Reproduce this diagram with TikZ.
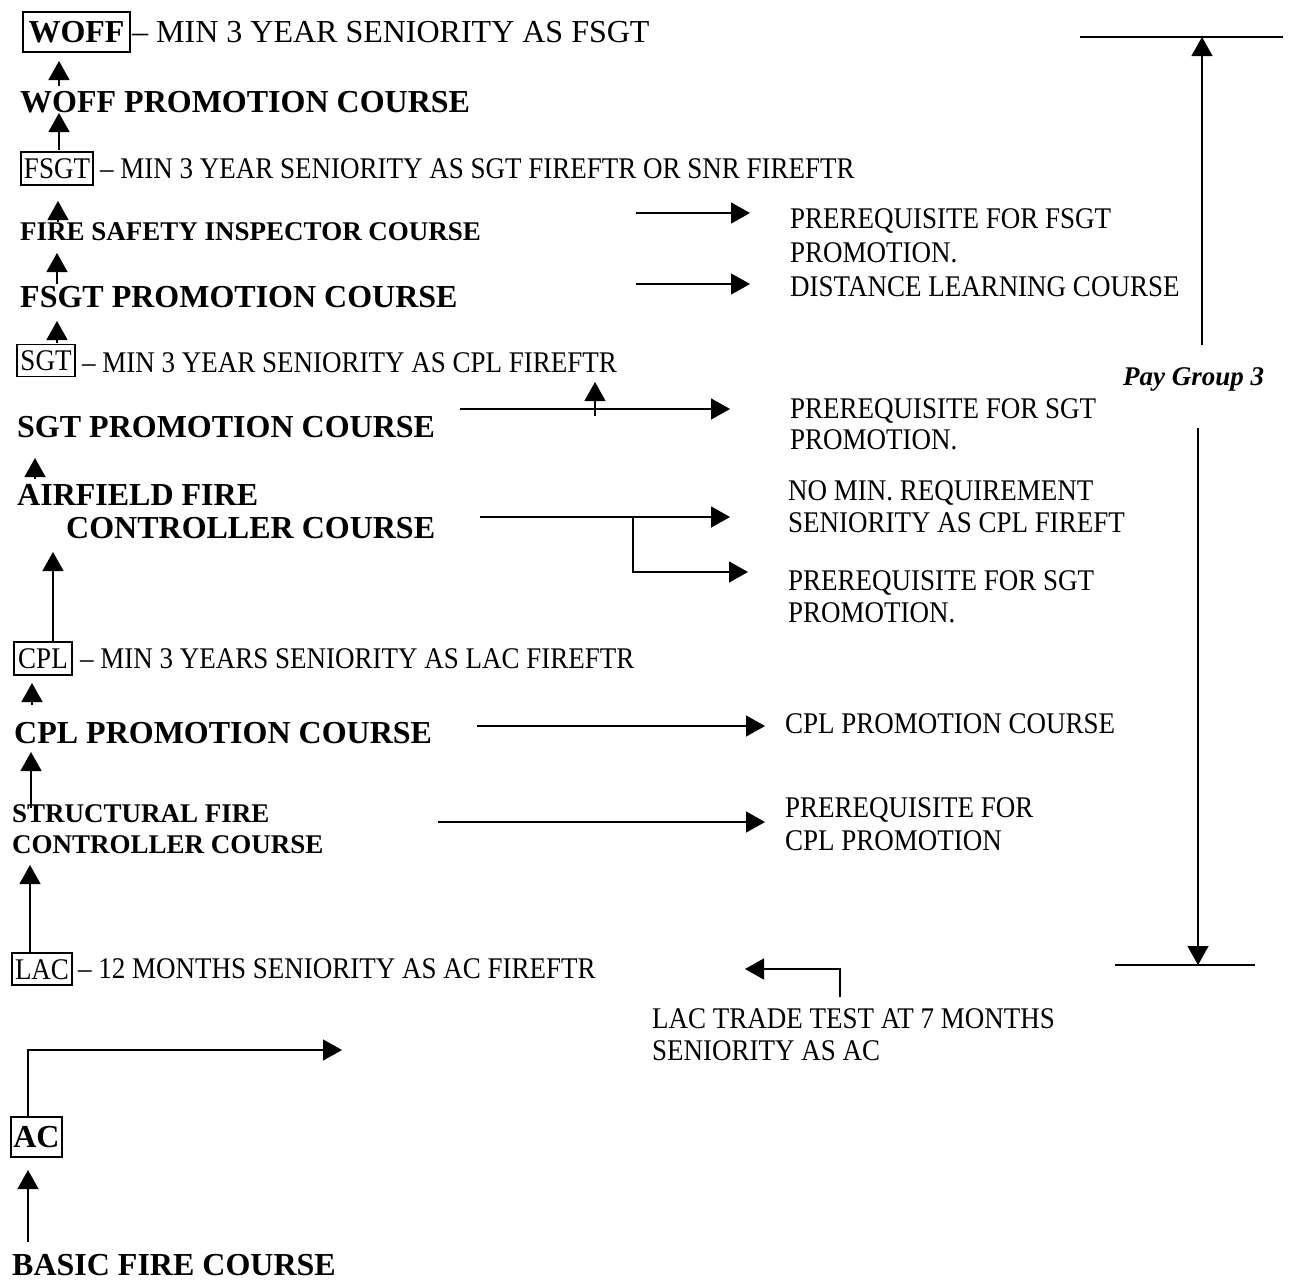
\documentclass[tikz,border=0pt]{standalone}
\usepackage{fontspec}
\setmainfont{Liberation Serif}
\newfontfamily\condser[FakeStretch=0.9]{Liberation Serif}
\usetikzlibrary{arrows.meta}
\begin{document}
\begin{tikzpicture}[x=1pt,y=-1pt,
 lbl/.style={anchor=base west,inner sep=0pt},
 big/.style={font=\fontsize{32}{38}\selectfont},
 bigb/.style={font=\fontsize{32}{38}\selectfont\bfseries},
 med/.style={font=\condser\fontsize{30}{36}\selectfont},
 medb/.style={font=\fontsize{27}{32}\selectfont\bfseries},
 rank/.style={draw,line width=1.2pt,inner sep=0pt,text depth=0pt},
 conn/.style={line width=1.3pt},
 arr/.style={conn,-{Triangle[width=21pt,length=19pt]}},
]
\fill[white] (0,0) rectangle (1290,1282);
\useasboundingbox (0,0) rectangle (1290,1282);

% ---- left column ----
\node[rank,bigb,text height=21pt,minimum width=107pt,minimum height=40pt] (woff) at (76.5,32) {WOFF};
\node[lbl,big] (wofft) at (132,42) {– MIN 3 YEAR SENIORITY AS FSGT};
\node[lbl,bigb] (woffc) at (20,112) {WOFF PROMOTION COURSE};
\node[rank,med,text height=20pt,minimum width=72pt,minimum height=33pt] (fsgt) at (57,168.5) {FSGT};
\node[lbl,med] (fsgtt) at (100,178) {– MIN 3 YEAR SENIORITY AS SGT FIREFTR OR SNR FIREFTR};
\node[lbl,medb] (fsic) at (20,240) {FIRE SAFETY INSPECTOR COURSE};
\node[lbl,bigb] (fsgtc) at (20,307) {FSGT PROMOTION COURSE};
\node[rank,med,text height=20pt,minimum width=58pt,minimum height=32pt] (sgt) at (46,360.5) {SGT};
\node[lbl,med] (sgtt) at (82,372) {– MIN 3 YEAR SENIORITY AS CPL FIREFTR};
\node[lbl,bigb] (sgtc) at (17,437) {SGT PROMOTION COURSE};
\node[lbl,bigb] (afc1) at (17,505) {AIRFIELD FIRE};
\node[lbl,bigb] (afc2) at (66,538) {CONTROLLER COURSE};
\node[rank,med,text height=20pt,minimum width=58pt,minimum height=33pt] (cpl) at (43,658.5) {CPL};
\node[lbl,med] (cplt) at (80,668) {– MIN 3 YEARS SENIORITY AS LAC FIREFTR};
\node[lbl,bigb] (cplc) at (14,743) {CPL PROMOTION COURSE};
\node[lbl,medb] (sfc1) at (12,822) {STRUCTURAL FIRE};
\node[lbl,medb] (sfc2) at (12,853) {CONTROLLER COURSE};
\node[rank,med,text height=20pt,minimum width=60pt,minimum height=32pt] (lac) at (42,969) {LAC};
\node[lbl,med] (lact) at (78,978) {– 12 MONTHS SENIORITY AS AC FIREFTR};
\node[rank,bigb,text height=21pt,minimum width=51pt,minimum height=40pt] (ac) at (36.5,1137) {AC};
\node[lbl,bigb] (bfc) at (12,1275) {BASIC FIRE COURSE};

% ---- right texts ----
\node[lbl,med] (r1a) at (790,228) {PREREQUISITE FOR FSGT};
\node[lbl,med] (r1b) at (790,262) {PROMOTION.};
\node[lbl,med] (r2) at (790,296) {DISTANCE LEARNING COURSE};
\node[lbl,med] (r3a) at (790,418) {PREREQUISITE FOR SGT};
\node[lbl,med] (r3b) at (790,449) {PROMOTION.};
\node[lbl,med] (r4a) at (788,500) {NO MIN. REQUIREMENT};
\node[lbl,med] (r4b) at (788,532) {SENIORITY AS CPL FIREFT};
\node[lbl,med] (r5a) at (788,590) {PREREQUISITE FOR SGT};
\node[lbl,med] (r5b) at (788,622) {PROMOTION.};
\node[lbl,med] (r6) at (785,733) {CPL PROMOTION COURSE};
\node[lbl,med] (r7a) at (785,817) {PREREQUISITE FOR};
\node[lbl,med] (r7b) at (785,850) {CPL PROMOTION};
\node[lbl,med] (r8a) at (652,1028) {LAC TRADE TEST AT 7 MONTHS};
\node[lbl,med] (r8b) at (652,1060) {SENIORITY AS AC};
\node[lbl,font=\fontsize{27}{32}\selectfont\bfseries\itshape] (pay) at (1123,385) {Pay Group 3};

% ---- coordinates ----
\coordinate (v1s) at (59,86);   \coordinate (v1e) at (59,61);
\coordinate (v2s) at (59,150);  \coordinate (v2e) at (59,113);
\coordinate (v3s) at (58,222);  \coordinate (v3e) at (58,201);
\coordinate (v4s) at (57,284);  \coordinate (v4e) at (57,253);
\coordinate (v5s) at (57,343);  \coordinate (v5e) at (57,321);
\coordinate (v6s) at (35,479);  \coordinate (v6e) at (35,458);
\coordinate (v7s) at (53,642);  \coordinate (v7e) at (53,552);
\coordinate (v8s) at (32,705);  \coordinate (v8e) at (32,683);
\coordinate (v9s) at (31,808);  \coordinate (v9e) at (31,752);
\coordinate (v10s) at (30,953); \coordinate (v10e) at (30,865);
\coordinate (v11s) at (28,1242);\coordinate (v11e) at (28,1170);

\coordinate (a1s) at (636,213); \coordinate (a1e) at (750,213);
\coordinate (a2s) at (636,284); \coordinate (a2e) at (750,284);
\coordinate (a3s) at (460,409); \coordinate (a3e) at (730,409);
\coordinate (a3b) at (595,416); \coordinate (a3u) at (595,382);
\coordinate (a4s) at (480,517); \coordinate (a4e) at (730,517);
\coordinate (a4b) at (633,517); \coordinate (a4f) at (748,572);
\coordinate (a5s) at (477,726); \coordinate (a5e) at (765,726);
\coordinate (a6s) at (438,822); \coordinate (a6e) at (765,822);
\coordinate (ltb) at (840,997); \coordinate (lte) at (745,969);
\coordinate (acb) at (28,1117); \coordinate (ace) at (342,1050);

\coordinate (pt1) at (1080,37); \coordinate (pt2) at (1283,37);
\coordinate (pus) at (1202,345); \coordinate (pue) at (1202,37);
\coordinate (pds) at (1198,428); \coordinate (pde) at (1198,965);
\coordinate (pb1) at (1115,965); \coordinate (pb2) at (1255,965);

% ---- connectors ----
\foreach \i in {1,...,11} {\draw[arr] (v\i s) -- (v\i e);}
\draw[arr] (a1s) -- (a1e);
\draw[arr] (a2s) -- (a2e);
\draw[arr] (a3s) -- (a3e);
\draw[arr] (a3b) -- (a3u);
\draw[arr] (a4s) -- (a4e);
\draw[arr] (a4b) |- (a4f);
\draw[arr] (a5s) -- (a5e);
\draw[arr] (a6s) -- (a6e);
\draw[arr] (ltb) |- (lte);
\draw[arr] (acb) |- (ace);

\draw[conn] (pt1) -- (pt2);
\draw[arr] (pus) -- (pue);
\draw[arr] (pds) -- (pde);
\draw[conn] (pb1) -- (pb2);
\end{tikzpicture}
\end{document}
